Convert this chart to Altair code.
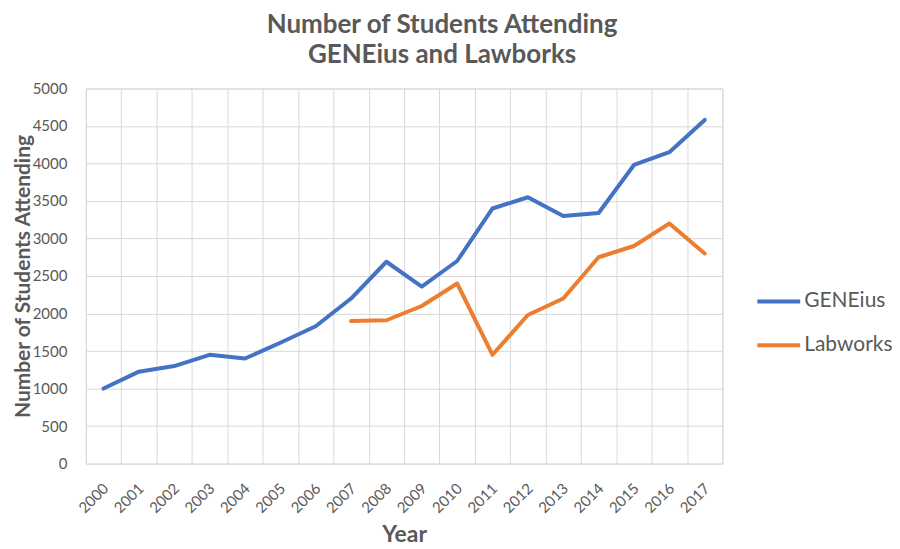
import altair as alt
import pandas as pd

years = [str(y) for y in range(2000, 2018)]
geneius = [1000, 1225, 1300, 1450, 1400, 1610, 1830, 2200, 2690, 2360, 2700, 3400, 3550, 3300, 3340, 3980, 4150, 4580]
labworks_years = [str(y) for y in range(2007, 2018)]
labworks = [1900, 1910, 2100, 2400, 1450, 1980, 2200, 2750, 2900, 3200, 2800]

rows = [{"Year": y, "Series": "GENEius", "Value": v} for y, v in zip(years, geneius)]
rows += [{"Year": y, "Series": "Labworks", "Value": v} for y, v in zip(labworks_years, labworks)]
df = pd.DataFrame(rows)

FONT = "Lato"
GREY = "#595959"

chart = alt.Chart(df).mark_line(strokeWidth=4, strokeCap="round", strokeJoin="round").encode(
    x=alt.X("Year:N", sort=years,
            scale=alt.Scale(domain=years, paddingInner=0, paddingOuter=0),
            axis=alt.Axis(title="Year", labelAngle=-45, tickBand="extent", ticks=False,
                          domain=False, grid=True, gridColor="#D9D9D9",
                          labelFontSize=15, labelColor=GREY, labelFont=FONT, labelPadding=17,
                          labelOffset=-3,
                          titleFontSize=23, titleFontWeight="bold", titleColor=GREY,
                          titleFont=FONT, titlePadding=8)),
    y=alt.Y("Value:Q", scale=alt.Scale(domain=[0, 5000], nice=False),
            axis=alt.Axis(title="Number of Students Attending", values=list(range(0, 5001, 500)),
                          format="d", ticks=False, domain=False, gridColor="#D9D9D9",
                          labelFontSize=15, labelColor=GREY, labelFont=FONT, labelPadding=19,
                          titleFontSize=21, titleFontWeight="bold", titleColor=GREY,
                          titleFont=FONT, titleAngle=-90, titleBaseline="top",
                          titleAlign="center", titleX=-73, titleY=188)),
    color=alt.Color("Series:N",
                    scale=alt.Scale(domain=["GENEius", "Labworks"], range=["#4472C4", "#ED7D31"]),
                    legend=alt.Legend(title=None, orient="none", legendX=671, legendY=190,
                                      symbolType="stroke", symbolSize=1849, symbolStrokeWidth=4,
                                      labelFontSize=21, labelColor=GREY, labelFont=FONT,
                                      rowPadding=10, labelOffset=2)),
).properties(
    width=638, height=376,
    title=alt.TitleParams(["Number of Students Attending", "GENEius and Lawborks"],
                          fontSize=26, fontWeight="bold", color=GREY, font=FONT,
                          anchor="middle", lineHeight=31, dx=38, offset=13),
    autosize=alt.AutoSizeParams(type="none"),
    padding={"left": 78, "top": 80, "right": 170, "bottom": 85},
).configure_view(stroke="#D9D9D9")

chart.save("out.html", embed_options={"renderer": "svg", "actions": False})
